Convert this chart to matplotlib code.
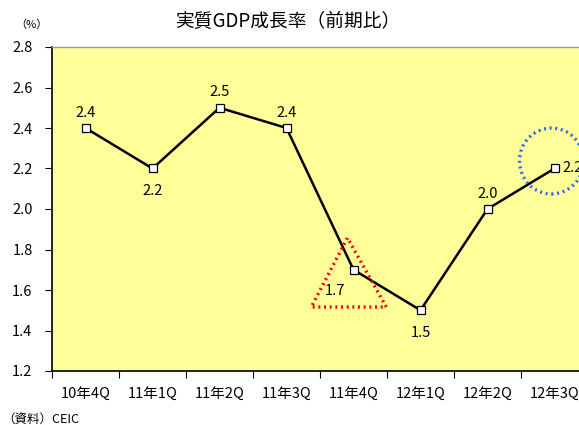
import matplotlib
matplotlib.use("Agg")
import matplotlib.pyplot as plt
from matplotlib.patches import Ellipse, Polygon

plt.rcParams["font.family"] = ["Noto Sans CJK JP", "DejaVu Sans"]

quarters = ["10年4Q", "11年1Q", "11年2Q", "11年3Q", "11年4Q", "12年1Q", "12年2Q", "12年3Q"]
growth = [2.4, 2.2, 2.5, 2.4, 1.7, 1.5, 2.0, 2.2]
# label placement: above / below / left / right of each point
label_pos = ["above", "below", "above", "above", "left", "below", "above", "right"]
y_ticks = [1.2, 1.4, 1.6, 1.8, 2.0, 2.2, 2.4, 2.6, 2.8]

fig = plt.figure(figsize=(5.79, 4.25), dpi=100)
# the original chart is cropped on the right, so the axes run past the figure edge
ax = fig.add_axes([52 / 579, 54 / 425, 536 / 579, 324 / 425])
ax.set_facecolor("#FFFF99")

x = list(range(len(quarters)))
ax.plot(x, growth, color="black", lw=1.8, marker="s", ms=6,
        mfc="white", mec="black", mew=0.9, zorder=3)

offsets = {"above": (0, 6, "center", "bottom"),
           "below": (0, -11, "center", "top"),
           "left": (-6, -10, "right", "top"),
           "right": (6, 0, "left", "center")}
for xi, val, pos in zip(x, growth, label_pos):
    dx, dy, ha, va = offsets[pos]
    ax.annotate(f"{val:.1f}", (xi, val), xytext=(dx, dy), textcoords="offset points",
                ha=ha, va=va, fontsize=10.5)

# highlight shapes
dots = (0, (0.6, 1.1))
tri = Polygon([(3.91, 1.857), (3.37, 1.516), (4.49, 1.516)], closed=True,
              fill=False, edgecolor="#FF0000", lw=2.4, linestyle=dots, zorder=4)
ax.add_patch(tri)
circ = Ellipse((6.955, 2.237), 0.955, 0.326, fill=False, edgecolor="#3366EE",
               lw=2.4, linestyle=dots, zorder=4)
ax.add_patch(circ)

ax.set_xlim(-0.5, len(quarters) - 0.5)
ax.set_ylim(1.2, 2.8)
ax.set_yticks(y_ticks)
ax.set_yticklabels([f"{v:.1f}" for v in y_ticks], fontsize=10.5)
ax.set_xticks([i - 0.5 for i in range(len(quarters) + 1)])
ax.set_xticklabels([])
ax.set_xticks(x, minor=True)
ax.set_xticklabels(quarters, minor=True, fontsize=10.5)
ax.tick_params(axis="x", which="minor", length=0, pad=12)
ax.tick_params(axis="x", which="major", length=5, direction="out")
ax.tick_params(axis="y", length=5, direction="out", pad=9)

ax.spines["right"].set_visible(False)
ax.spines["top"].set_color("#999999")
ax.spines["top"].set_linewidth(1.0)
ax.spines["left"].set_linewidth(1.2)
ax.spines["bottom"].set_linewidth(1.2)

fig.text(288 / 579, 1 - 21 / 425, "実質GDP成長率（前期比）", ha="center", va="center", fontsize=13.5)
fig.text(31 / 579, 1 - 25 / 425, "（%）", ha="center", va="center", fontsize=8)
fig.text(2 / 579, 1 - 419 / 425, "（資料）CEIC", ha="left", va="center", fontsize=9)

fig.savefig("out.png", dpi=100)
